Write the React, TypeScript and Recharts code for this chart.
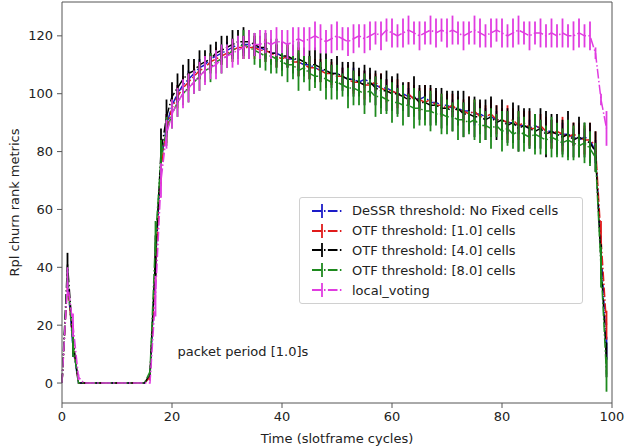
import React from 'react';
import {
  LineChart,
  Line,
  XAxis,
  YAxis,
  ErrorBar,
  ReferenceLine,
  ReferenceDot,
} from 'recharts';

// x positions: one point per slotframe cycle
const cycles = Array.from({ length: 100 }, (_, i) => i);

const dessr = [
  0, 36, 12, 0, 0, 0, 0, 0, 0, 0,
  0, 0, 0, 0, 0, 0, 2, 42, 76, 89,
  96, 100, 103, 105, 107, 109, 110, 112, 113, 114,
  115, 116, 117, 117, 117, 116, 116, 115, 114, 114,
  113, 112, 112, 111, 110, 110, 109, 108, 108, 107,
  107, 106, 105, 105, 104, 105, 104, 103, 102, 102,
  101, 100, 100, 99, 99, 98, 99, 97, 97, 96,
  96, 95, 95, 94, 94, 93, 93, 92, 92, 91,
  91, 90, 90, 89, 89, 88, 89, 88, 87, 87,
  86, 86, 86, 85, 84, 85, 84, 80, 46, 12,
];
const dessrErr = [
  0, 3, 3, 0, 0, 0, 0, 0, 0, 0,
  0, 0, 0, 0, 0, 0, 1, 5, 5, 4,
  4, 3, 3, 3, 3, 3, 3, 2, 3, 3,
  3, 3, 2, 3, 3, 3, 3, 3, 3, 3,
  3, 3, 4, 3, 4, 3, 3, 3, 3, 3,
  3, 3, 3, 4, 3, 3, 3, 3, 4, 3,
  3, 3, 3, 3, 4, 3, 3, 3, 3, 3,
  4, 3, 3, 3, 3, 4, 3, 3, 3, 3,
  3, 4, 3, 3, 3, 3, 4, 3, 3, 4,
  3, 4, 3, 3, 4, 3, 4, 4, 5, 4,
];

const otf1 = [
  0, 35, 14, 0, 0, 0, 0, 0, 0, 0,
  0, 0, 0, 0, 0, 0, 2, 40, 74, 88,
  95, 99, 102, 104, 106, 108, 109, 111, 112, 113,
  114, 115, 116, 116, 116, 116, 115, 115, 114, 113,
  112, 113, 111, 111, 110, 109, 109, 108, 107, 107,
  106, 106, 105, 104, 104, 103, 103, 104, 102, 101,
  101, 100, 99, 100, 98, 98, 97, 98, 96, 96,
  95, 96, 94, 94, 93, 94, 92, 92, 93, 91,
  91, 90, 91, 89, 90, 88, 88, 89, 87, 86,
  87, 86, 85, 86, 85, 84, 84, 82, 50, 20,
];
const otf1Err = [
  0, 3, 4, 0, 0, 0, 0, 0, 0, 0,
  0, 0, 0, 0, 0, 0, 1, 5, 6, 5,
  4, 4, 4, 3, 4, 3, 4, 3, 4, 3,
  3, 4, 3, 4, 3, 4, 3, 4, 3, 4,
  4, 4, 3, 5, 4, 4, 3, 4, 5, 4,
  4, 3, 5, 4, 4, 5, 4, 3, 5, 4,
  4, 5, 4, 4, 5, 4, 6, 4, 5, 4,
  5, 4, 5, 4, 6, 4, 5, 4, 5, 5,
  4, 6, 4, 5, 4, 6, 5, 4, 5, 5,
  4, 6, 5, 4, 5, 5, 6, 5, 6, 5,
];

const otf4 = [
  0, 41, 15, 0, 0, 0, 0, 0, 0, 0,
  0, 0, 0, 0, 0, 0, 3, 44, 80, 92,
  99, 102, 105, 107, 108, 110, 111, 112, 114, 115,
  116, 117, 118, 118, 118, 117, 116, 116, 114, 114,
  113, 113, 112, 112, 111, 110, 110, 109, 108, 107,
  107, 106, 105, 105, 104, 103, 104, 102, 101, 101,
  100, 100, 99, 98, 99, 97, 97, 96, 96, 95,
  95, 94, 95, 93, 93, 92, 92, 91, 92, 90,
  91, 89, 90, 88, 89, 88, 87, 88, 86, 87,
  86, 85, 86, 84, 85, 84, 83, 80, 42, 8,
];
const otf4Err = [
  0, 4, 5, 0, 0, 0, 0, 0, 0, 0,
  0, 0, 0, 0, 0, 0, 1, 7, 8, 6,
  5, 5, 5, 5, 4, 5, 4, 5, 4, 5,
  4, 5, 4, 5, 4, 4, 4, 5, 4, 5,
  5, 4, 5, 6, 5, 5, 6, 5, 6, 5,
  6, 5, 6, 6, 5, 7, 5, 6, 6, 7,
  6, 7, 5, 6, 7, 6, 6, 7, 6, 7,
  6, 7, 6, 8, 6, 7, 6, 7, 7, 6,
  7, 6, 7, 8, 6, 7, 6, 7, 8, 6,
  7, 6, 8, 6, 7, 6, 7, 7, 6, 6,
];

const otf8 = [
  0, 37, 13, 0, 0, 0, 0, 0, 0, 0,
  0, 0, 0, 0, 0, 0, 4, 50, 78, 87,
  93, 97, 100, 102, 104, 106, 108, 109, 111, 112,
  113, 115, 116, 117, 116, 115, 114, 113, 113, 112,
  111, 110, 110, 108, 109, 107, 106, 106, 105, 104,
  104, 103, 102, 102, 101, 100, 101, 99, 99, 98,
  97, 97, 96, 96, 95, 95, 94, 94, 93, 93,
  92, 92, 91, 91, 90, 91, 89, 89, 88, 89,
  87, 88, 86, 87, 86, 85, 86, 85, 84, 85,
  84, 83, 84, 83, 82, 83, 81, 78, 40, 3,
];
const otf8Err = [
  0, 3, 4, 0, 0, 0, 0, 0, 0, 0,
  0, 0, 0, 0, 0, 0, 1, 6, 6, 5,
  5, 5, 4, 5, 4, 5, 4, 5, 4, 5,
  4, 4, 4, 5, 4, 5, 5, 5, 6, 5,
  5, 6, 5, 7, 5, 6, 4, 5, 7, 6,
  6, 4, 7, 6, 5, 7, 4, 7, 6, 5,
  7, 5, 7, 4, 7, 6, 5, 7, 4, 7,
  6, 5, 7, 6, 4, 7, 6, 5, 7, 4,
  7, 6, 5, 7, 6, 4, 7, 6, 5, 7,
  6, 5, 7, 6, 4, 7, 6, 5, 7, 6,
];

const localVoting = [
  0, 35, 20, 2, 0, 0, 0, 0, 0, 0,
  0, 0, 0, 0, 0, 0, 0, 30, 70, 86,
  93, 97, 100, 102, 104, 106, 108, 109, 110, 112,
  113, 114, 115, 116, 117, 117, 117, 118, 117, 118,
  118, 117, 118, 119, 118, 119, 120, 119, 118, 119,
  120, 119, 118, 119, 120, 119, 120, 121, 120, 122,
  121, 120, 121, 122, 121, 120, 121, 122, 121, 122,
  121, 122, 121, 120, 121, 122, 121, 120, 121, 122,
  121, 120, 121, 122, 121, 120, 121, 121, 120, 121,
  120, 121, 120, 120, 121, 120, 120, 114, 98, 88,
];
const localVotingErr = [
  0, 5, 4, 1, 0, 0, 0, 0, 0, 0,
  0, 0, 0, 0, 0, 0, 0, 7, 6, 5,
  5, 5, 5, 5, 4, 5, 5, 4, 5, 5,
  4, 5, 5, 4, 5, 4, 5, 4, 5, 5,
  4, 5, 5, 4, 5, 4, 5, 5, 4, 5,
  5, 4, 5, 5, 4, 5, 5, 4, 5, 4,
  5, 4, 5, 5, 4, 5, 4, 5, 5, 4,
  5, 5, 4, 5, 4, 5, 5, 4, 5, 4,
  5, 4, 5, 5, 4, 5, 4, 5, 4, 5,
  4, 5, 4, 5, 5, 4, 5, 2, 2, 6,
];

const xTicks = [0, 20, 40, 60, 80, 100];
const yTicks = [0, 20, 40, 60, 80, 100, 120];

const series = [
  { key: 'dessr', name: 'DeSSR threshold: No Fixed cells', color: '#1c1cc8' },
  { key: 'otf1', name: 'OTF threshold: [1.0] cells', color: '#e01b1b' },
  { key: 'otf4', name: 'OTF threshold: [4.0] cells', color: '#000000' },
  { key: 'otf8', name: 'OTF threshold: [8.0] cells', color: '#1e8a1e' },
  { key: 'local', name: 'local_voting', color: '#e03ce0' },
];

const data = cycles.map((c, i) => ({
  x: c,
  dessr: dessr[i],
  dessrErr: dessrErr[i],
  otf1: otf1[i],
  otf1Err: otf1Err[i],
  otf4: otf4[i],
  otf4Err: otf4Err[i],
  otf8: otf8[i],
  otf8Err: otf8Err[i],
  local: localVoting[i],
  localErr: localVotingErr[i],
}));

const FONT = '"DejaVu Sans", sans-serif';
const DASH = '9.6 2.4 1.5 2.4';
const Y_MIN = -6.9;
const Y_MAX = 131.7;

const tickStyle = { fontSize: 13, fill: '#222', fontFamily: FONT };

export default function App() {
  return (
    <div style={{ position: 'absolute', left: 0, top: 0, width: 625, height: 448, background: '#fff', fontFamily: FONT }}>
      <LineChart width={625} height={448} data={data} margin={{ top: 2, right: 13, bottom: 0, left: 0 }}>
        <XAxis
          dataKey="x"
          type="number"
          domain={[0, 100]}
          ticks={xTicks}
          height={45}
          tick={tickStyle}
          tickSize={5}
          tickMargin={4}
          stroke="#555"
          label={{ value: 'Time (slotframe cycles)', position: 'insideBottom', offset: 5, style: { fontSize: 13, fill: '#222', fontFamily: FONT } }}
        />
        <YAxis
          type="number"
          domain={[Y_MIN, Y_MAX]}
          ticks={yTicks}
          width={62}
          tick={tickStyle}
          tickSize={5}
          tickMargin={4}
          stroke="#555"
          allowDataOverflow
          label={{ value: 'Rpl churn rank metrics', angle: -90, position: 'insideLeft', offset: 14, style: { textAnchor: 'middle', fontSize: 13, fill: '#222', fontFamily: FONT } }}
        />
        <ReferenceLine x={100} stroke="#555" />
        <ReferenceLine y={Y_MAX} stroke="#555" />

        {series.map((s) => (
          <Line
            key={s.key}
            type="linear"
            dataKey={s.key}
            name={s.name}
            stroke={s.color}
            strokeWidth={1.5}
            strokeDasharray={DASH}
            dot={false}
            activeDot={false}
            isAnimationActive={false}
          >
            <ErrorBar dataKey={s.key + 'Err'} width={0} stroke={s.color} strokeWidth={1.8} isAnimationActive={false} />
          </Line>
        ))}

        <ReferenceDot
          x={21}
          y={11}
          r={0}
          label={(props: any) => (
            <text x={props.viewBox.x} y={props.viewBox.y} dy="0.35em" fontSize={13} fill="#222" fontFamily={FONT}>
              packet period [1.0]s
            </text>
          )}
        />
      </LineChart>

      {/* legend box */}
      <div
        style={{
          position: 'absolute',
          left: 299,
          top: 197,
          width: 284,
          padding: '3px 0',
          border: '1px solid #d0d0d0',
          borderRadius: 3,
          background: 'rgba(255,255,255,0.85)',
          fontSize: 13,
          color: '#222',
          boxSizing: 'border-box',
        }}
      >
        {series.map((s) => (
          <div key={s.key} style={{ display: 'flex', alignItems: 'center', height: 19.8 }}>
            <svg width={40} height={14} style={{ marginLeft: 12 }}>
              <line x1={0} y1={7} x2={30} y2={7} stroke={s.color} strokeWidth={1.8} strokeDasharray="9.6 2.4 1.5 2.4" />
              <line x1={10} y1={0} x2={10} y2={14} stroke={s.color} strokeWidth={1.8} />
            </svg>
            <span style={{ whiteSpace: 'nowrap' }}>{s.name}</span>
          </div>
        ))}
      </div>
    </div>
  );
}
